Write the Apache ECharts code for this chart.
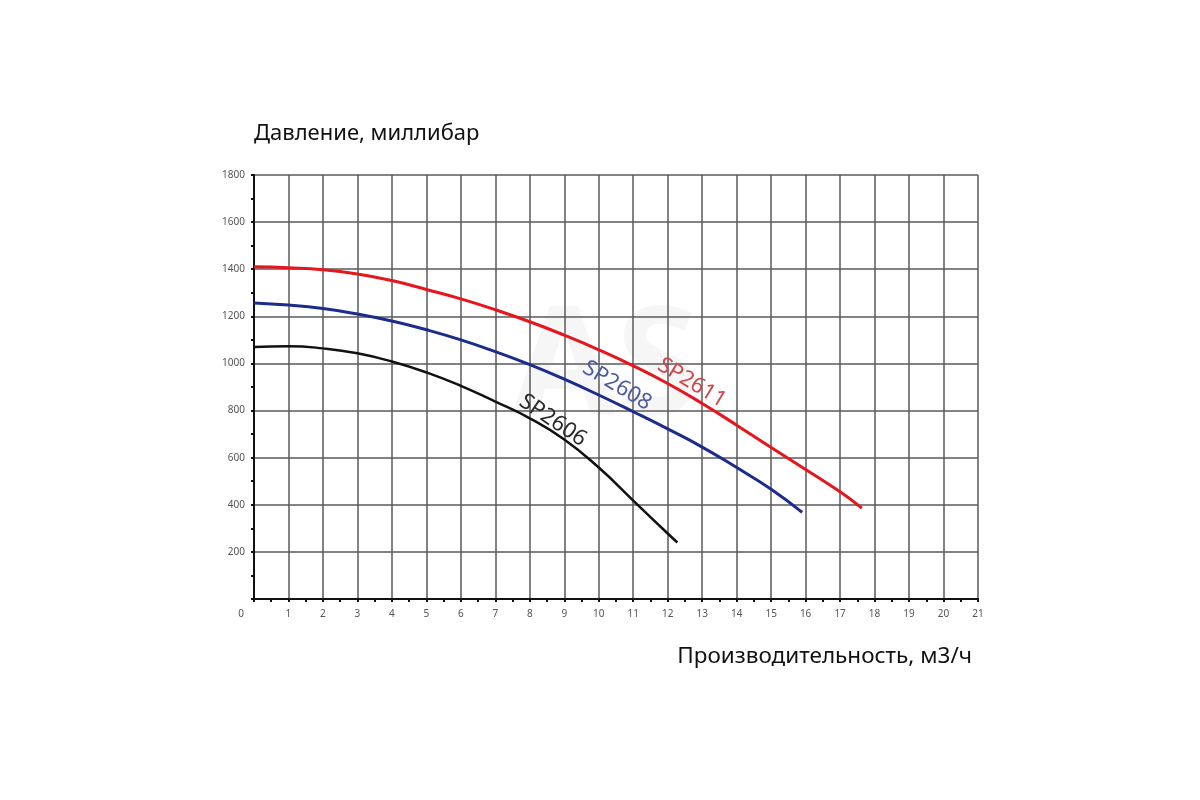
<!DOCTYPE html>
<html><head><meta charset="utf-8">
<script src="https://cdn.jsdelivr.net/npm/echarts@6/dist/echarts.min.js"></script>
<style>html,body{margin:0;padding:0;background:#fff}#c{width:1200px;height:800px}</style>
</head><body><div id="c"></div>
<script>
const xTicks = [0,1,2,3,4,5,6,7,8,9,10,11,12,13,14,15,16,17,18,19,20,21];
const yTicks = [0,200,400,600,800,1000,1200,1400,1600,1800];
const sp2611 = [[0,1410],[1,1406],[2,1398],[3,1380],[4,1352],[5,1314],[6,1274],[7,1228],[8,1177],[9,1120],[10,1058],[11,990],[12,915],[13,830],[14,738],[15,643],[16,550],[17,455],[17.63,386]];
const sp2608 = [[0,1257],[1,1248],[2,1233],[3,1210],[4,1180],[5,1143],[6,1100],[7,1050],[8,995],[9,933],[10,866],[11,795],[12,722],[13,645],[14,558],[15,466],[15.9,368]];
const sp2606 = [[0,1070],[1,1073],[2,1064],[3,1043],[4,1008],[5,962],[6,905],[7,838],[8,767],[9,677],[10,558],[11,418],[12,278],[12.28,240]];
const seriesNames = ['SP2611','SP2608','SP2606'];
const labelPos = [[12.7,918],[10.53,906],[8.67,758]];
const labelRot = [-31,-31,-34];

const lineColors = ['#e5161c','#1b2c8c','#111111'];
const textColors = ['#d2464a','#4d5c9e','#2a2a2a'];
const lineWidths = [3,3,2.5];
const datas = [sp2611, sp2608, sp2606];

const chart = echarts.init(document.getElementById('c'));
chart.setOption({
  backgroundColor:'#fff',
  animation:false,
  graphic:[{type:'text', left:512, top:296, z:-1, style:{text:'AS', fontSize:150, fontWeight:'bold', fontFamily:'Noto Sans', fill:'rgba(0,0,0,0.035)'}}],
  grid:{left:254, right:222, top:175, bottom:201},
  xAxis:{type:'value', min:0, max:21, interval:1,
    name:'Производительность, м3/ч', nameLocation:'end', nameGap:0,
    nameTextStyle:{fontFamily:'Noto Sans', fontSize:22.5, color:'#111', align:'right', verticalAlign:'top', padding:[46,6,0,0]},
    axisLine:{lineStyle:{color:'#111', width:2}},
    axisTick:{show:true, length:3, lineStyle:{color:'#111', width:2}},
    minorTick:{show:true, splitNumber:2, length:3, lineStyle:{color:'#111', width:2}},
    splitLine:{show:true, lineStyle:{color:'#5a5a5a', width:1.5}},
    axisLabel:{fontFamily:'Noto Sans', fontSize:10, color:'#555', margin:10,
      formatter:v => v===0 ? '{z|0}' : String(v),
      rich:{z:{fontFamily:'Noto Sans', fontSize:10, color:'#555', padding:[0,26,0,0]}}}
  },
  yAxis:{type:'value', min:0, max:1800, interval:200,
    name:'Давление, миллибар', nameLocation:'end', nameGap:0,
    nameTextStyle:{fontFamily:'Noto Sans', fontSize:22, color:'#111', align:'left', verticalAlign:'bottom', padding:[0,0,30,0]},
    axisLine:{show:true, lineStyle:{color:'#111', width:2}},
    axisTick:{show:true, length:3, lineStyle:{color:'#111', width:2}},
    minorTick:{show:true, splitNumber:2, length:3, lineStyle:{color:'#111', width:2}},
    splitLine:{show:true, lineStyle:{color:'#5a5a5a', width:1.5}},
    axisLabel:{fontFamily:'Noto Sans', fontSize:10, color:'#555', margin:9,
      formatter:v => v===0 ? '' : String(v)}
  },
  series: datas.map((d,i)=>({
    name:seriesNames[i], type:'line', data:d, smooth:0.5, showSymbol:false, z:3,
    lineStyle:{color:lineColors[i], width:lineWidths[i]},
    markPoint:{symbol:'circle', symbolSize:0, silent:true,
      data:[{coord:labelPos[i], label:{show:true, formatter:seriesNames[i], rotate:labelRot[i],
        position:'inside', fontFamily:'Noto Sans', fontSize:22, color:textColors[i]}}]}
  }))
});
</script></body></html>
